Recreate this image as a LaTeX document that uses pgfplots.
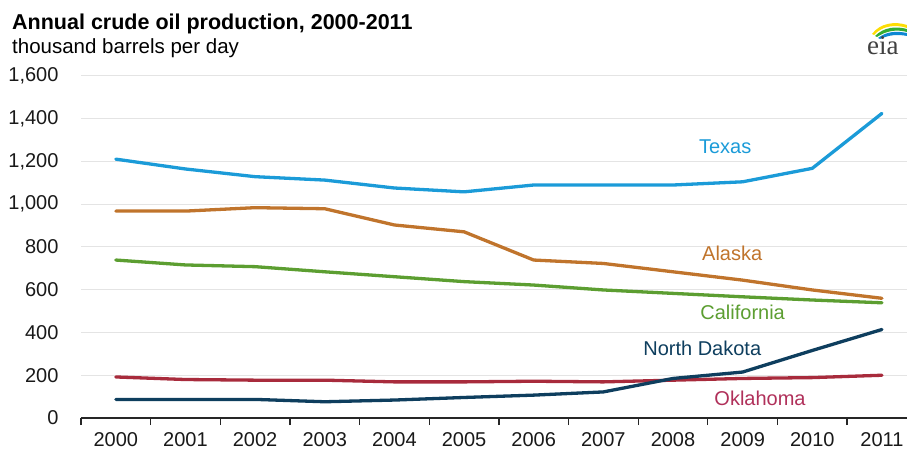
\documentclass[border=0pt]{standalone}
\usepackage{pgfplots}
\pgfplotsset{compat=1.18}
\usepackage{fontspec}
\setmainfont{Liberation Sans}
\newfontfamily\serifeia{Liberation Serif}
\definecolor{ctexas}{HTML}{1B9BD8}
\definecolor{calaska}{HTML}{C0742C}
\definecolor{ccalif}{HTML}{5C9E31}
\definecolor{cnd}{HTML}{0E3E5E}
\definecolor{cok}{HTML}{A82B3C}
\definecolor{coklab}{HTML}{B0305A}
\definecolor{gridc}{HTML}{E4E4E4}
\pgfplotstableread{
x texas alaska calif nd ok
0 1211 968 739 87 192
1 1165 968 716 87 180
2 1129 984 708 87 177
3 1113 979 684 76 177
4 1076 903 661 84 169
5 1058 871 638 96 169
6 1090 739 622 107 172
7 1090 723 599 122 169
8 1090 684 583 185 177
9 1105 645 567 215 185
10 1168 599 552 316 189
11 1425 560 539 414 200
}\data
\begin{document}
\begin{tikzpicture}
\useasboundingbox (0pt,0pt) rectangle (907pt,455pt);
\node[anchor=base west,inner sep=0pt,font=\fontsize{21.5}{24}\selectfont\bfseries] at (12pt,425pt) {Annual crude oil production, 2000-2011};
\node[anchor=base west,inner sep=0pt,font=\fontsize{20.5}{24}\selectfont] at (12pt,401pt) {thousand barrels per day};
% eia logo
\fill[yellow!80!orange] (872pt,421pt) .. controls (880pt,432pt) and (895pt,434pt) .. (907pt,430pt) -- (907pt,427pt) .. controls (895pt,431pt) and (882pt,429pt) .. (874pt,420pt) -- cycle;
\fill[green!60!black!80] (875pt,419pt) .. controls (884pt,428pt) and (896pt,429pt) .. (907pt,426pt) -- (907pt,423pt) .. controls (896pt,426pt) and (886pt,424pt) .. (877pt,418pt) -- cycle;
\fill[cyan!70!blue] (878pt,417pt) .. controls (887pt,424pt) and (897pt,424pt) .. (907pt,422pt) -- (907pt,419pt) .. controls (897pt,421pt) and (889pt,420pt) .. (880pt,416pt) -- cycle;
\node[anchor=base west,inner sep=0pt,text=black!75,font=\fontsize{27}{27}\serifeia] at (867pt,400pt) {eia};
\begin{axis}[
  at={(81pt,37pt)}, anchor=south west,
  scale only axis, width=826pt, height=342pt,
  xmin=-0.5, xmax=11.36, ymin=0, ymax=1600,
  axis lines=left, axis line style={line width=1.3pt, black!85, -},
  y axis line style={draw=none},
  ytick={0,200,...,1600},
  ymajorgrids, grid style={gridc, line width=1pt},
  major y tick style={draw=none},
  xtick={-0.5,0.5,...,10.5},
  xticklabels={},
  major x tick style={draw=black!85, line width=1.3pt},
  major tick length=7pt,
  tick align=outside,
  extra x ticks={0,...,11},
  extra x tick labels={2000,2001,2002,2003,2004,2005,2006,2007,2008,2009,2010,2011},
  extra x tick style={major tick length=0pt, grid=none},
  tick label style={font=\fontsize{20}{24}\selectfont, text=black!90},
  /pgf/number format/assume math mode=true,
  /pgf/number format/1000 sep={,},
  yticklabel style={xshift=-12pt},
  xticklabel style={yshift=-11pt},
  clip=false,
  every axis plot/.append style={line width=3.3pt, line join=round, line cap=round},
]
\addplot[ctexas] table[x=x,y=texas]{\data};
\addplot[calaska] table[x=x,y=alaska]{\data};
\addplot[ccalif] table[x=x,y=calif]{\data};
\addplot[cok] table[x=x,y=ok]{\data};
\addplot[cnd] table[x=x,y=nd]{\data};
\begin{scope}[every node/.style={font=\fontsize{20}{24}\selectfont}]
\node[text=ctexas] at (axis cs:8.75,1268) {Texas};
\node[text=calaska] at (axis cs:8.85,772) {Alaska};
\node[text=ccalif] at (axis cs:9.0,496) {California};
\node[text=cnd] at (axis cs:8.42,327) {North Dakota};
\node[text=coklab] at (axis cs:9.25,94) {Oklahoma};
\end{scope}
\end{axis}
\end{tikzpicture}
\end{document}
